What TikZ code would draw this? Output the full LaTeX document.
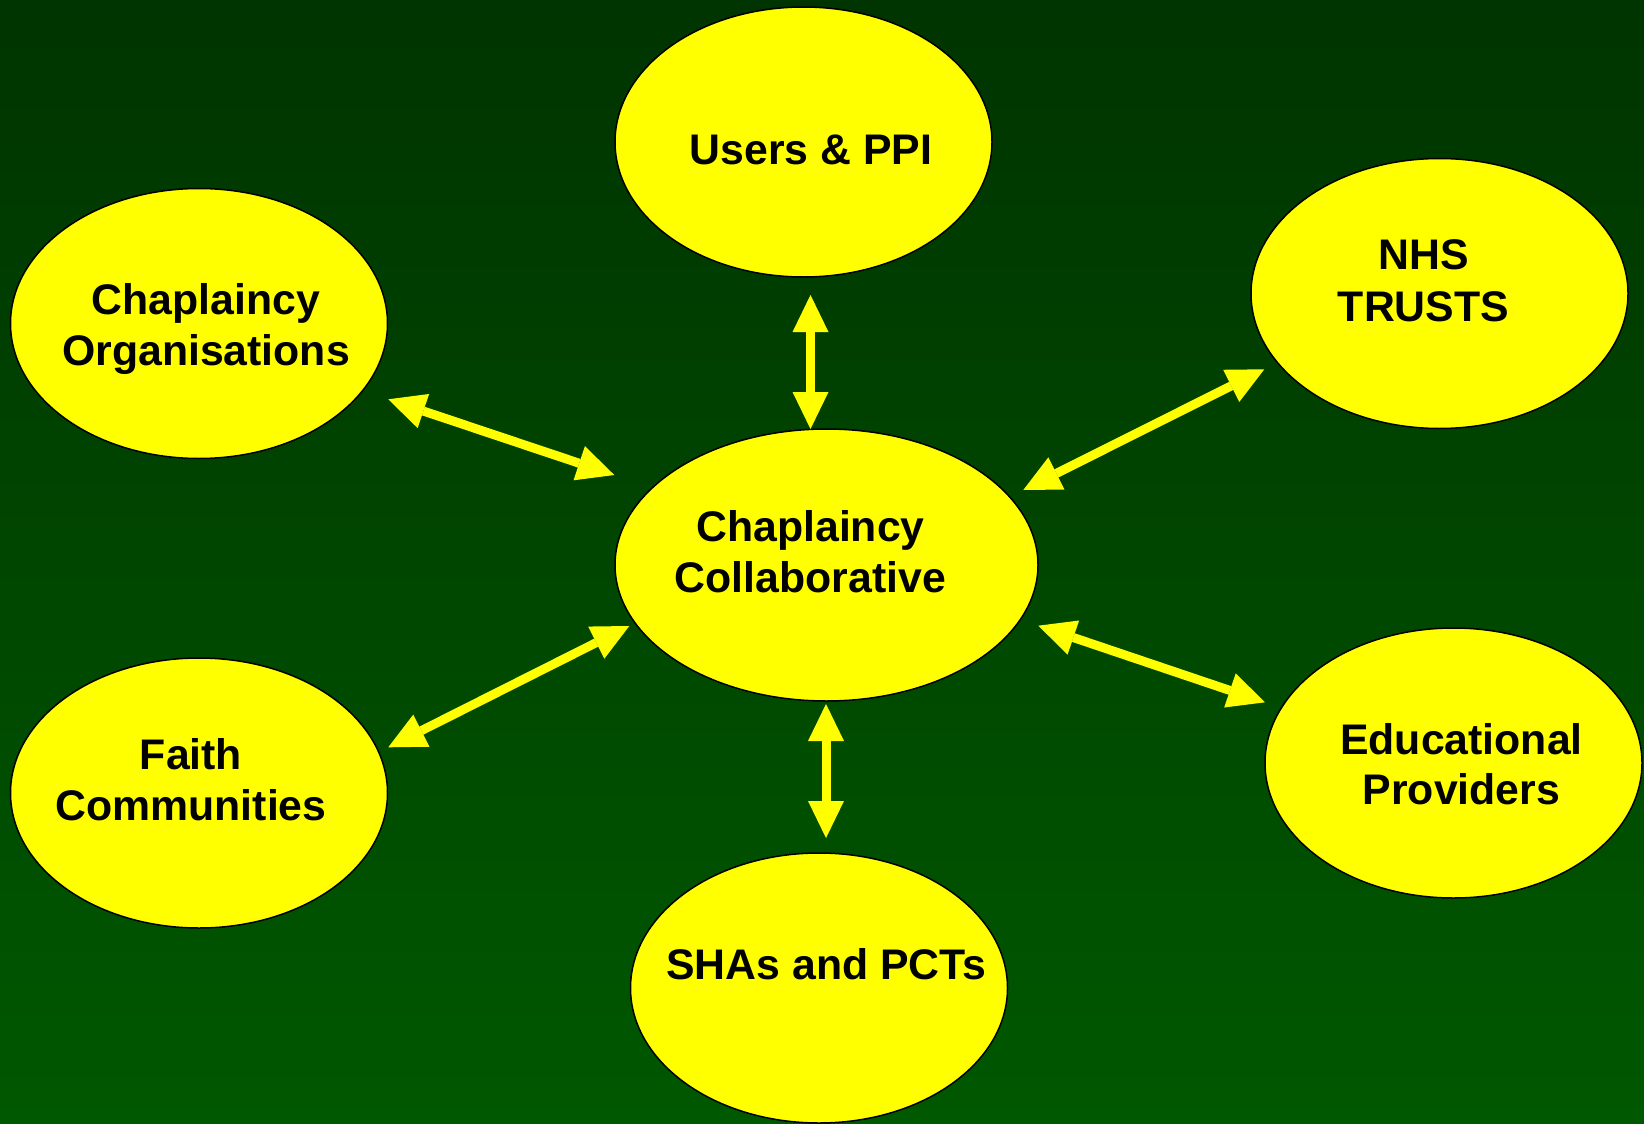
\documentclass[tikz,border=0pt]{standalone}
\usepackage{fontspec}
\setmainfont{Liberation Sans}
\usetikzlibrary{shapes.geometric,arrows.meta}
\definecolor{bgtop}{RGB}{0,52,0}
\definecolor{bgbot}{RGB}{0,88,0}
\definecolor{ellyellow}{RGB}{255,255,0}
\tikzset{
  ell/.style={ellipse, draw=black, line width=1.5pt, fill=ellyellow, inner sep=0pt,
              minimum width=377pt, minimum height=270pt},
  lbl/.style={anchor=base, inner sep=0pt, text=black,
              font=\fontsize{42.8pt}{50pt}\selectfont\bfseries},
  dbl/.style={draw=ellyellow, line width=9pt,
              {Triangle[length=37pt,width=36pt,line width=0pt]}-{Triangle[length=37pt,width=36pt,line width=0pt]}}
}
\begin{document}
\begin{tikzpicture}[x=1pt,y=-1pt]
  \clip (0,0) rectangle (1644,1124);
  \shade[top color=bgtop, bottom color=bgbot] (0,0) rectangle (1644,1124);

  % ellipses
  \node[ell] (users)  at (803.5,142) {};
  \node[ell] (corg)   at (199,323.5) {};
  \node[ell] (nhs)    at (1439.5,293.5) {};
  \node[ell, minimum width=423pt, minimum height=272pt] (collab) at (826.5,565) {};
  \node[ell] (faith)  at (199,793) {};
  \node[ell] (edu)    at (1453.5,763) {};
  \node[ell] (sha)    at (819,988) {};

  % labels
  \node[lbl] (tusers) at (811,164) {Users \& PPI};
  \node[lbl] (tcorg1) at (206,314) {Chaplaincy};
  \node[lbl] (tcorg2) at (206,365) {Organisations};
  \node[lbl] (tnhs1)  at (1423.5,269) {NHS};
  \node[lbl] (tnhs2)  at (1423.5,321) {TRUSTS};
  \node[lbl] (tcol1)  at (810.5,541) {Chaplaincy};
  \node[lbl] (tcol2)  at (810.5,592) {Collaborative};
  \node[lbl] (tfai1)  at (191,769) {Faith};
  \node[lbl] (tfai2)  at (191,820) {Communities};
  \node[lbl] (tedu1)  at (1461.5,754) {Educational};
  \node[lbl] (tedu2)  at (1461.5,804) {Providers};
  \node[lbl] (tsha)   at (826.5,979) {SHAs and PCTs};

  % arrow end points
  \coordinate (u1) at (810.5,295);
  \coordinate (u2) at (810.5,429);
  \coordinate (s1) at (826,704);
  \coordinate (s2) at (826,838);
  \coordinate (o1) at (388.3,399.3);
  \coordinate (o2) at (614.3,475);
  \coordinate (n1) at (1264.3,369.3);
  \coordinate (n2) at (1023.3,490);
  \coordinate (f1) at (629.3,626);
  \coordinate (f2) at (388.3,747.3);
  \coordinate (e1) at (1038.3,625.7);
  \coordinate (e2) at (1265,702.3);

  % connectors
  \draw[dbl] (u1) -- (u2);
  \draw[dbl] (s1) -- (s2);
  \draw[dbl] (o1) -- (o2);
  \draw[dbl] (n1) -- (n2);
  \draw[dbl] (f1) -- (f2);
  \draw[dbl] (e1) -- (e2);
\end{tikzpicture}
\end{document}
